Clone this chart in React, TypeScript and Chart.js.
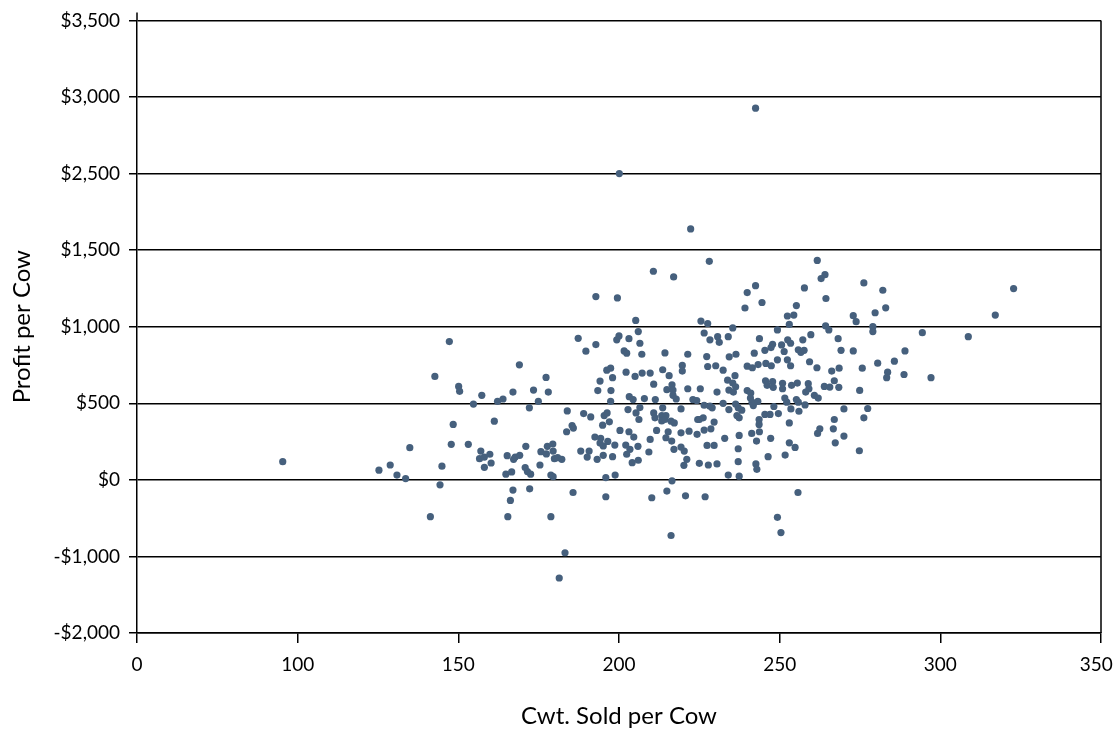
import React, { useEffect, useRef } from "react";
import { Chart, registerables } from "chart.js";

Chart.register(...registerables);

// Axis tick values / labels as printed on the original chart (evenly spaced positions)
const xTickValues = [0, 100, 150, 200, 250, 300, 350];
const xTickLabels = ["0", "100", "150", "200", "250", "300", "350"];
const yTickValues = [-2000, -1000, 0, 500, 1000, 1500, 2500, 3000, 3500];
const yTickLabels = ["-$2,000", "-$1,000", "$0", "$500", "$1,000", "$1,500", "$2,500", "$3,000", "$3,500"];

const xTitle = "Cwt. Sold per Cow";
const yTitle = "Profit per Cow";

// Cwt. sold per cow (one entry per farm)
const cwtSold = [
  147.2, 169.0, 142.7, 150.1, 150.4, 157.3, 177.3, 167.0, 173.4, 178.0,
  154.7, 162.2, 163.9, 174.9, 172.1, 161.2, 148.4, 147.8, 153.1, 134.9,
  90.7, 125.3, 128.8, 130.9, 133.6, 144.9, 144.3, 157.0, 156.6, 158.1,
  159.8, 160.2, 158.1, 165.2, 167.2, 167.7, 169.1, 164.8, 166.6, 171.0,
  170.8, 171.5, 172.5, 175.4, 175.7, 177.4, 177.7, 179.4, 179.5, 179.9,
  180.9, 178.8, 179.5, 167.0, 166.2, 172.2, 141.3, 165.4, 178.8, 181.4,
  182.2, 183.2,
  192.8, 199.5, 205.2, 206.0, 187.3, 192.8, 189.7, 199.3, 200.0, 203.1,
  206.5, 201.6, 202.4, 207.1, 214.3, 221.4, 219.7, 219.7, 196.2, 197.4,
  202.2, 205.0, 207.2, 209.7, 213.6, 215.6, 194.1, 198.0, 210.8, 216.5,
  193.4, 197.5, 214.9, 216.8, 221.4, 197.4, 203.2, 204.4, 207.9, 211.3,
  216.8, 217.8, 223.0, 224.2,
  183.9, 189.0, 191.2, 195.4, 196.3, 202.8, 205.3, 206.5, 206.2, 210.8,
  211.2, 213.6, 213.3, 214.6, 213.3, 214.3, 216.2, 217.2, 219.3, 224.5,
  185.4, 185.8, 183.7, 194.9, 197.0, 200.3, 203.1, 211.7, 215.3, 219.3,
  221.8, 224.3, 192.5, 194.3, 194.1, 195.1, 196.5, 204.6, 209.7, 214.6,
  216.4, 198.7, 202.1, 203.4, 202.4, 205.9, 209.3, 217.1, 219.3, 220.3,
  221.1, 220.2, 225.0, 188.1, 190.7, 190.1, 193.2, 195.1, 198.0, 204.1,
  206.0, 195.9, 198.8, 216.5, 185.7, 195.9, 210.2, 214.9, 220.7, 216.2,
  242.5, 200.1, 222.3, 228.1, 210.7, 217.0, 261.7,
  264.1, 262.9, 242.5, 239.9, 257.7, 264.4, 244.5, 239.2, 255.2, 252.4,
  254.4, 225.5, 227.6, 253.0, 235.4, 264.3, 265.3, 226.5, 249.3, 230.7,
  228.3, 231.2, 234.0, 243.7, 259.7, 268.2, 252.5, 253.4, 247.8, 247.3,
  245.4, 250.6, 251.4, 257.2, 255.8, 256.6, 257.6, 269.1, 242.1, 236.4,
  234.3, 227.3, 227.6, 230.1, 232.4, 239.9, 241.5, 243.3, 245.7, 247.4,
  249.3, 252.4, 253.4, 259.3, 261.6, 266.2, 268.5, 236.1, 233.8, 235.4,
  236.3, 234.2, 235.6, 225.3, 230.5, 239.9, 241.0, 245.6, 246.1, 247.8,
  248.0, 250.9, 250.9, 253.7, 255.5, 258.9, 259.1, 258.1, 260.8, 262.0,
  263.9, 265.6, 267.0, 268.4, 232.4, 240.9, 241.4, 241.8, 243.2, 251.6,
  252.2, 255.2, 255.8, 257.9, 226.5, 228.3, 229.0, 236.3, 237.1, 238.2,
  234.2, 248.2, 253.5, 270.0,
  256.0, 225.0, 226.2, 229.6, 236.7, 237.4, 243.6, 243.6, 243.7, 245.4,
  247.0, 249.6, 253.0, 267.0,
  226.5, 228.6, 232.9, 237.4, 241.3, 242.8, 247.2, 253.0, 254.8, 261.8,
  262.5, 266.7, 267.3, 270.0, 227.4, 229.6, 237.1, 246.4, 251.7, 237.1,
  227.8, 230.5, 242.6, 242.9, 234.0, 237.4, 226.8, 255.7, 249.3, 250.4,
  276.2, 282.1, 322.8, 283.0, 279.7, 272.9, 273.8, 317.1, 279.0, 279.0,
  294.4, 308.7, 272.9, 289.0, 280.5, 285.7, 275.7, 283.6, 283.3, 288.7,
  297.1, 274.9, 277.4, 276.2, 274.8,
];

// Profit per cow ($), same order as cwtSold
const profitPerCow = [
  903, 751, 675, 610, 578, 552, 669, 573, 586, 573,
  495, 513, 528, 513, 470, 383, 362, 232, 232, 210,
  119, 63, 97, 31, 8, 89, -65, 188, 138, 149,
  167, 110, 82, 158, 134, 149, 160, 37, 52, 219,
  80, 54, 37, 97, 184, 169, 219, 234, 188, 138,
  145, 31, 21, -134, -269, -117, -481, -481, -481, -1282,
  134, -952,
  1197, 1188, 1041, 968, 924, 883, 840, 914, 940, 922,
  892, 842, 827, 820, 829, 820, 747, 710, 716, 729,
  703, 675, 697, 697, 719, 680, 645, 667, 625, 621,
  583, 583, 589, 586, 595, 513, 543, 524, 531, 524,
  552, 528, 524, 518,
  450, 433, 411, 420, 437, 459, 437, 472, 394, 437,
  405, 470, 420, 420, 385, 394, 383, 372, 463, 394,
  355, 338, 314, 357, 379, 323, 314, 323, 314, 307,
  318, 297, 279, 271, 240, 221, 251, 279, 264, 275,
  253, 227, 227, 199, 167, 219, 182, 199, 214, 188,
  134, 95, 108, 188, 188, 149, 134, 160, 151, 112,
  128, 15, 31, -13, -165, -221, -234, -147, -208, -727,
  2927, 2500, 1777, 1427, 1362, 1325, 1433,
  1340, 1314, 1268, 1223, 1253, 1184, 1158, 1122, 1138, 1070,
  1076, 1037, 1021, 1015, 992, 1005, 979, 959, 979, 935,
  914, 898, 935, 922, 948, 922, 914, 892, 885, 864,
  846, 881, 838, 914, 849, 833, 846, 846, 827, 820,
  803, 805, 740, 745, 716, 742, 732, 753, 760, 745,
  784, 784, 745, 771, 732, 710, 729, 680, 651, 632,
  608, 586, 573, 595, 573, 583, 567, 647, 617, 641,
  604, 630, 595, 617, 632, 628, 595, 573, 552, 534,
  610, 606, 647, 604, 500, 534, 507, 485, 513, 534,
  507, 524, 507, 489, 487, 481, 470, 495, 470, 455,
  459, 479, 463, 463,
  448, 394, 405, 377, 420, 405, 394, 362, 314, 427,
  427, 433, 372, 394,
  325, 333, 271, 290, 303, 253, 271, 242, 212, 303,
  333, 333, 242, 286, 225, 225, 203, 151, 162, 119,
  97, 104, 104, 69, 31, 24, -221, -165, -490, -688,
  1286, 1238, 1249, 1123, 1091, 1072, 1033, 1076, 1000, 968,
  961, 935, 842, 842, 762, 775, 729, 703, 667, 688,
  667, 584, 466, 405, 190,
];

const FONT = "Lato, 'Open Sans', 'DejaVu Sans', sans-serif";
const POINT_COLOR = "#46607d";

// Map a value onto the evenly spaced tick positions (0..n-1) of the printed axis
function toAxis(v: number, ticks: number[]): number {
  for (let i = 0; i < ticks.length - 1; i++) {
    if (v <= ticks[i + 1] || i === ticks.length - 2) {
      return i + (v - ticks[i]) / (ticks[i + 1] - ticks[i]);
    }
  }
  return 0;
}

const axisExtension = {
  id: "axisExtension",
  afterDraw(chart: any) {
    const { ctx, chartArea } = chart;
    ctx.save();
    ctx.strokeStyle = "#000";
    ctx.lineWidth = 1.5;
    ctx.beginPath();
    ctx.moveTo(chartArea.left, chartArea.top - 8);
    ctx.lineTo(chartArea.left, chartArea.top);
    ctx.moveTo(chartArea.right, chartArea.top);
    ctx.lineTo(chartArea.right, chartArea.bottom);
    ctx.stroke();
    ctx.restore();
  },
};

export default function App() {
  const canvasRef = useRef<HTMLCanvasElement | null>(null);

  useEffect(() => {
    if (!canvasRef.current) return;
    const points = cwtSold.map((c, i) => ({
      x: toAxis(c, xTickValues),
      y: toAxis(profitPerCow[i], yTickValues),
    }));
    const lastX = xTickLabels.length - 1;
    const chart = new Chart(canvasRef.current, {
      type: "scatter",
      data: {
        datasets: [
          {
            data: points,
            backgroundColor: POINT_COLOR,
            borderWidth: 0,
            pointRadius: 3.6,
            pointHoverRadius: 3.6,
          },
        ],
      },
      plugins: [axisExtension],
      options: {
        animation: false,
        responsive: true,
        maintainAspectRatio: false,
        events: [],
        layout: { padding: { top: 17, right: 13, left: 0, bottom: 0 } },
        plugins: {
          legend: { display: false },
          tooltip: { enabled: false },
        },
        scales: {
          x: {
            type: "linear",
            min: 0,
            max: xTickValues.length - 1,
            afterFit: (s: any) => {
              s.height = 98;
              s.paddingRight = 0;
              s.paddingLeft = 0;
            },
            ticks: {
              stepSize: 1,
              autoSkip: false,
              maxRotation: 0,
              padding: 10,
              color: "#000",
              font: { family: FONT, size: 19 },
              callback: (v: any) => {
                const i = Math.round(Number(v));
                const t = xTickLabels[i] ?? "";
                // keep the last label inside the canvas, as in the original
                return i === lastX ? t + "\u2002" : t;
              },
            },
            grid: {
              drawOnChartArea: false,
              drawTicks: true,
              tickLength: 10,
              color: "#000",
              lineWidth: 1.5,
            },
            border: { display: true, color: "#000", width: 1.5 },
            title: {
              display: true,
              text: xTitle,
              color: "#000",
              font: { family: FONT, size: 24 },
              padding: { top: 0, bottom: 0 },
            },
          },
          y: {
            type: "linear",
            min: 0,
            max: yTickValues.length - 1,
            afterFit: (s: any) => {
              s.width = 137;
            },
            ticks: {
              stepSize: 1,
              autoSkip: false,
              padding: 9,
              color: "#000",
              font: { family: FONT, size: 19 },
              callback: (v: any) => yTickLabels[Math.round(Number(v))] ?? "",
            },
            grid: {
              drawOnChartArea: true,
              drawTicks: true,
              tickLength: 8,
              color: "#000",
              lineWidth: 1.5,
            },
            border: { display: true, color: "#000", width: 1.5 },
            title: {
              display: true,
              text: yTitle,
              color: "#000",
              font: { family: FONT, size: 24 },
              padding: { top: 8, bottom: 0 },
            },
          },
        },
      },
    });
    return () => chart.destroy();
  }, []);

  return (
    <div
      style={{
        position: "fixed",
        left: 0,
        top: 0,
        width: 1114,
        height: 731,
        background: "#fff",
      }}
    >
      <canvas ref={canvasRef} />
    </div>
  );
}
